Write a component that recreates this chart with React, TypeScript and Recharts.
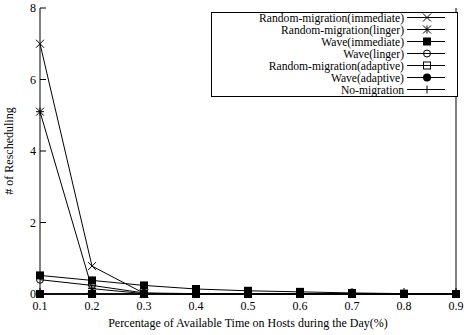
import React from 'react'
import { LineChart, Line, XAxis, YAxis, Label } from 'recharts'

const xValues = [0.1, 0.2, 0.3, 0.4, 0.5, 0.6, 0.7, 0.8, 0.9]
const yTicks = [0, 2, 4, 6, 8]

const rmImmediate = [7.0, 0.78, 0.02, 0, 0, 0, 0, 0, 0]
const rmLinger = [5.1, 0.15, 0.01, 0, 0, 0, 0, 0, 0]
const waveImmediate = [0.52, 0.38, 0.24, 0.14, 0.09, 0.06, 0.03, 0.01, 0]
const waveLinger = [0.4, 0.24, 0.03, 0.01, 0, 0, 0, 0, 0]
const rmAdaptive = [0, 0, 0, 0, 0, 0, 0, 0, 0]
const waveAdaptive = [0, 0, 0, 0, 0, 0, 0, 0, 0]
const noMigration = [0, 0, 0, 0, 0, 0, 0, 0, 0]

type MarkerKind = 'x' | 'star' | 'fsquare' | 'circle' | 'square' | 'fcircle' | 'plus'

const series: { key: string; name: string; values: number[]; marker: MarkerKind }[] = [
  { key: 'rmi', name: 'Random-migration(immediate)', values: rmImmediate, marker: 'x' },
  { key: 'rml', name: 'Random-migration(linger)', values: rmLinger, marker: 'star' },
  { key: 'wi', name: 'Wave(immediate)', values: waveImmediate, marker: 'fsquare' },
  { key: 'wl', name: 'Wave(linger)', values: waveLinger, marker: 'circle' },
  { key: 'rma', name: 'Random-migration(adaptive)', values: rmAdaptive, marker: 'square' },
  { key: 'wa', name: 'Wave(adaptive)', values: waveAdaptive, marker: 'fcircle' },
  { key: 'nm', name: 'No-migration', values: noMigration, marker: 'plus' },
]

const rows = xValues.map((x, i) => {
  const row: Record<string, number> = { x }
  series.forEach((s) => {
    row[s.key] = s.values[i]
  })
  return row
})

const txt: React.CSSProperties = { fontFamily: "'Liberation Serif', 'DejaVu Serif', serif", fontSize: 12 }
const legendTxt: React.CSSProperties = { ...txt, fontSize: 11.6 }
const S = 4

function Marker({ kind, cx, cy }: { kind: MarkerKind; cx: number; cy: number }) {
  switch (kind) {
    case 'x':
      return (
        <g stroke="#000" strokeWidth={1}>
          <line x1={cx - S} y1={cy - S} x2={cx + S} y2={cy + S} />
          <line x1={cx - S} y1={cy + S} x2={cx + S} y2={cy - S} />
        </g>
      )
    case 'star':
      return (
        <g stroke="#000" strokeWidth={1}>
          <line x1={cx - S} y1={cy - S} x2={cx + S} y2={cy + S} />
          <line x1={cx - S} y1={cy + S} x2={cx + S} y2={cy - S} />
          <line x1={cx} y1={cy - S} x2={cx} y2={cy + S} />
          <line x1={cx - S} y1={cy} x2={cx + S} y2={cy} />
        </g>
      )
    case 'fsquare':
      return <rect x={cx - S} y={cy - S} width={2 * S} height={2 * S} fill="#000" />
    case 'square':
      return <rect x={cx - S + 0.5} y={cy - S + 0.5} width={2 * S - 1} height={2 * S - 1} fill="none" stroke="#000" />
    case 'circle':
      return <circle cx={cx} cy={cy} r={S - 0.5} fill="none" stroke="#000" />
    case 'fcircle':
      return <circle cx={cx} cy={cy} r={S} fill="#000" />
    case 'plus':
      return (
        <g stroke="#000" strokeWidth={1}>
          <line x1={cx} y1={cy - S} x2={cx} y2={cy + S} />
          <line x1={cx - S} y1={cy} x2={cx + S} y2={cy} />
        </g>
      )
  }
  return null
}

const makeDot = (kind: MarkerKind) => (p: any) => (
  <Marker key={`${kind}-${p.index}`} kind={kind} cx={p.cx} cy={p.cy} />
)

// gnuplot style ticks: inward marks plus labels
const BottomTick = (p: any) => (
  <g>
    <line x1={p.x} x2={p.x} y1={p.y - 7} y2={p.y - 13} stroke="#000" />
    <text x={p.x} y={p.y + 9} textAnchor="middle" style={txt} fill="#000">
      {p.payload.value}
    </text>
  </g>
)

const TopTick = (p: any) => (
  <line x1={p.x} x2={p.x} y1={p.y} y2={p.y + 6} stroke="#000" />
)

const LeftTick = (p: any) => (
  <g>
    <line x1={p.x + 4} x2={p.x + 10} y1={p.y} y2={p.y} stroke="#000" />
    <text x={p.x} y={p.y + 4} textAnchor="end" style={txt} fill="#000">
      {p.payload.value}
    </text>
  </g>
)

const RightTick = (p: any) => (
  <line x1={p.x} x2={p.x - 6} y1={p.y} y2={p.y} stroke="#000" />
)

function LegendBox() {
  const rowH = 12
  return (
    <svg width={248} height={86} style={{ position: 'absolute', left: 211, top: 12 }}>
      <rect x={0.5} y={0.5} width={246} height={84} fill="#fff" stroke="#000" />
      {series.map((s, i) => {
        const cy = 5.5 + i * rowH
        return (
          <g key={s.key}>
            <text x={193} y={cy + 4} textAnchor="end" style={legendTxt} fill="#000">
              {s.name}
            </text>
            <line x1={196} x2={234} y1={cy} y2={cy} stroke="#000" />
            <Marker kind={s.marker} cx={216} cy={cy} />
          </g>
        )
      })}
    </svg>
  )
}

export default function App() {
  return (
    <div style={{ position: 'absolute', left: 0, top: 0, width: 464, height: 335, background: '#fff' }}>
      <LineChart width={464} height={335} data={rows} margin={{ top: 8, right: 4, left: 0, bottom: 0 }}>
        <XAxis
          xAxisId="b"
          dataKey="x"
          type="number"
          domain={[0.1, 0.9]}
          ticks={xValues}
          height={41}
          tickSize={0}
          tickMargin={7}
          tickLine={false}
          axisLine={{ stroke: '#000' }}
          tick={BottomTick}
          interval={0}
        >
          <Label
            content={(props: any) => {
              const vb = props.viewBox
              return (
                <text x={vb.x + vb.width / 2} y={vb.y + 33} textAnchor="middle" style={txt} fill="#000">
                  Percentage of Available Time on Hosts during the Day(%)
                </text>
              )
            }}
          />
        </XAxis>
        <XAxis
          xAxisId="t"
          orientation="top"
          dataKey="x"
          type="number"
          domain={[0.1, 0.9]}
          ticks={xValues}
          height={0}
          tickSize={0}
          tickLine={false}
          axisLine={{ stroke: '#000' }}
          tick={TopTick}
          interval={0}
        />
        <YAxis
          yAxisId="l"
          type="number"
          domain={[0, 8]}
          ticks={yTicks}
          width={40}
          tickSize={0}
          tickMargin={4}
          tickLine={false}
          axisLine={{ stroke: '#000' }}
          tick={LeftTick}
          interval={0}
        >
          <Label
            content={(props: any) => {
              const vb = props.viewBox
              const cx = vb.x + 13
              const cy = vb.y + vb.height / 2
              return (
                <text x={cx} y={cy} transform={`rotate(-90 ${cx} ${cy})`} textAnchor="middle" style={txt} fill="#000">
                  # of Rescheduling
                </text>
              )
            }}
          />
        </YAxis>
        <YAxis
          yAxisId="r"
          orientation="right"
          type="number"
          domain={[0, 8]}
          ticks={yTicks}
          width={4}
          tickSize={0}
          tickMargin={0}
          tickLine={false}
          axisLine={{ stroke: '#000' }}
          tick={RightTick}
          interval={0}
        />
        {series.map((s) => (
          <Line
            key={s.key}
            xAxisId="b"
            yAxisId="l"
            dataKey={s.key}
            name={s.name}
            type="linear"
            stroke="#000"
            strokeWidth={1}
            dot={makeDot(s.marker)}
            activeDot={false}
            isAnimationActive={false}
          />
        ))}
      </LineChart>
      <LegendBox />
    </div>
  )
}
